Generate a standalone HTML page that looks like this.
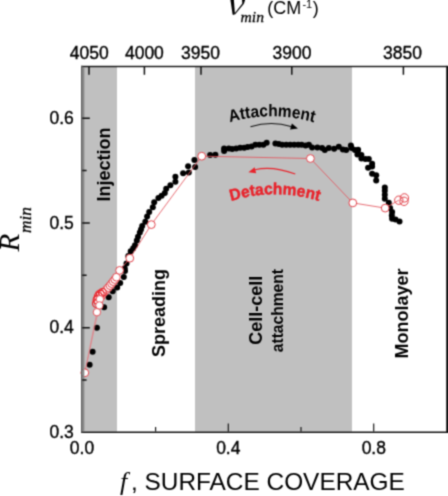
<!DOCTYPE html>
<html><head><meta charset="utf-8"><style>
html,body{margin:0;padding:0;background:#fff;width:448px;height:496px;overflow:hidden}
svg{display:block}
</style></head><body>
<svg width="448" height="496" viewBox="0 0 448 496">
<defs><filter id="bl" color-interpolation-filters="sRGB" x="0" y="0" width="100%" height="100%" filterUnits="userSpaceOnUse"><feConvolveMatrix order="3" kernelMatrix="0.04000 0.12000 0.04000 0.12000 0.36000 0.12000 0.04000 0.12000 0.04000" edgeMode="duplicate" preserveAlpha="true"/></filter></defs>
<g filter="url(#bl)">
<rect width="448" height="496" fill="#fff"/>
<rect x="82.3" y="66.3" width="34.7" height="365.3" fill="#c0c0c0"/>
<rect x="195" y="66.3" width="157" height="365.3" fill="#c0c0c0"/>
<circle cx="89.6" cy="364.8" r="3.0" fill="#000"/>
<circle cx="92.6" cy="351.7" r="3.0" fill="#000"/>
<circle cx="96.9" cy="327.8" r="3.0" fill="#000"/>
<circle cx="104.1" cy="307.3" r="3.0" fill="#000"/>
<circle cx="108.7" cy="297.2" r="3.0" fill="#000"/>
<circle cx="112.7" cy="291.2" r="3.0" fill="#000"/>
<circle cx="117.2" cy="287.6" r="3.0" fill="#000"/>
<circle cx="120.2" cy="283.1" r="3.0" fill="#000"/>
<circle cx="123.8" cy="277.1" r="3.0" fill="#000"/>
<circle cx="125.0" cy="271.0" r="3.0" fill="#000"/>
<circle cx="124.7" cy="268.3" r="3.0" fill="#000"/>
<circle cx="126.5" cy="263.4" r="3.0" fill="#000"/>
<circle cx="128.3" cy="256.0" r="3.0" fill="#000"/>
<circle cx="130.7" cy="251.3" r="3.0" fill="#000"/>
<circle cx="133.2" cy="248.3" r="3.0" fill="#000"/>
<circle cx="135.0" cy="245.3" r="3.0" fill="#000"/>
<circle cx="136.8" cy="240.4" r="3.0" fill="#000"/>
<circle cx="138.0" cy="236.8" r="3.0" fill="#000"/>
<circle cx="139.8" cy="232.6" r="3.0" fill="#000"/>
<circle cx="141.0" cy="229.5" r="3.0" fill="#000"/>
<circle cx="142.2" cy="225.9" r="3.0" fill="#000"/>
<circle cx="145.3" cy="221.7" r="3.0" fill="#000"/>
<circle cx="147.1" cy="216.6" r="3.0" fill="#000"/>
<circle cx="149.2" cy="212.1" r="3.0" fill="#000"/>
<circle cx="152.8" cy="207.2" r="3.0" fill="#000"/>
<circle cx="154.2" cy="202.2" r="3.0" fill="#000"/>
<circle cx="158.4" cy="198.0" r="3.0" fill="#000"/>
<circle cx="161.6" cy="195.8" r="3.0" fill="#000"/>
<circle cx="164.8" cy="193.1" r="3.0" fill="#000"/>
<circle cx="166.2" cy="188.8" r="3.0" fill="#000"/>
<circle cx="170.4" cy="185.3" r="3.0" fill="#000"/>
<circle cx="175.4" cy="181.8" r="3.0" fill="#000"/>
<circle cx="175.4" cy="176.8" r="3.0" fill="#000"/>
<circle cx="183.1" cy="173.3" r="3.0" fill="#000"/>
<circle cx="188.8" cy="172.6" r="3.0" fill="#000"/>
<circle cx="188.1" cy="166.2" r="3.0" fill="#000"/>
<circle cx="195.1" cy="166.9" r="3.0" fill="#000"/>
<circle cx="194.4" cy="159.9" r="3.0" fill="#000"/>
<circle cx="210.1" cy="155.1" r="3.0" fill="#000"/>
<circle cx="215.4" cy="154.8" r="3.0" fill="#000"/>
<circle cx="224.1" cy="151.1" r="3.0" fill="#000"/>
<circle cx="224.1" cy="148.4" r="3.0" fill="#000"/>
<circle cx="228.8" cy="148.4" r="3.0" fill="#000"/>
<circle cx="232.2" cy="149.1" r="3.0" fill="#000"/>
<circle cx="236.2" cy="148.4" r="3.0" fill="#000"/>
<circle cx="240.2" cy="147.7" r="3.0" fill="#000"/>
<circle cx="244.2" cy="147.7" r="3.0" fill="#000"/>
<circle cx="247.6" cy="147.1" r="3.0" fill="#000"/>
<circle cx="251.6" cy="146.4" r="3.0" fill="#000"/>
<circle cx="255.4" cy="144.7" r="3.0" fill="#000"/>
<circle cx="259.4" cy="144.7" r="3.0" fill="#000"/>
<circle cx="263.4" cy="144.7" r="3.0" fill="#000"/>
<circle cx="266.7" cy="142.7" r="3.0" fill="#000"/>
<circle cx="275.4" cy="143.4" r="3.0" fill="#000"/>
<circle cx="278.8" cy="144.1" r="3.0" fill="#000"/>
<circle cx="282.1" cy="144.7" r="3.0" fill="#000"/>
<circle cx="286.2" cy="144.7" r="3.0" fill="#000"/>
<circle cx="290.2" cy="144.7" r="3.0" fill="#000"/>
<circle cx="294.2" cy="144.7" r="3.0" fill="#000"/>
<circle cx="298.2" cy="144.7" r="3.0" fill="#000"/>
<circle cx="301.6" cy="144.7" r="3.0" fill="#000"/>
<circle cx="305.6" cy="145.4" r="3.0" fill="#000"/>
<circle cx="308.9" cy="144.7" r="3.0" fill="#000"/>
<circle cx="312.1" cy="147.4" r="3.0" fill="#000"/>
<circle cx="317.4" cy="147.4" r="3.0" fill="#000"/>
<circle cx="322.1" cy="148.1" r="3.0" fill="#000"/>
<circle cx="324.8" cy="150.1" r="3.0" fill="#000"/>
<circle cx="328.8" cy="148.1" r="3.0" fill="#000"/>
<circle cx="334.1" cy="148.7" r="3.0" fill="#000"/>
<circle cx="338.8" cy="146.7" r="3.0" fill="#000"/>
<circle cx="342.9" cy="149.4" r="3.0" fill="#000"/>
<circle cx="346.2" cy="150.1" r="3.0" fill="#000"/>
<circle cx="350.9" cy="145.4" r="3.0" fill="#000"/>
<circle cx="351.6" cy="148.1" r="3.0" fill="#000"/>
<circle cx="354.9" cy="150.1" r="3.0" fill="#000"/>
<circle cx="357.6" cy="151.4" r="3.0" fill="#000"/>
<circle cx="358.1" cy="149.7" r="3.0" fill="#000"/>
<circle cx="357.4" cy="154.4" r="3.0" fill="#000"/>
<circle cx="361.4" cy="155.1" r="3.0" fill="#000"/>
<circle cx="361.4" cy="158.4" r="3.0" fill="#000"/>
<circle cx="365.4" cy="159.1" r="3.0" fill="#000"/>
<circle cx="368.8" cy="159.1" r="3.0" fill="#000"/>
<circle cx="372.1" cy="163.8" r="3.0" fill="#000"/>
<circle cx="372.1" cy="166.5" r="3.0" fill="#000"/>
<circle cx="368.1" cy="167.8" r="3.0" fill="#000"/>
<circle cx="372.1" cy="173.8" r="3.0" fill="#000"/>
<circle cx="376.2" cy="175.2" r="3.0" fill="#000"/>
<circle cx="376.2" cy="180.5" r="3.0" fill="#000"/>
<circle cx="384.8" cy="187.4" r="3.0" fill="#000"/>
<circle cx="384.8" cy="190.7" r="3.0" fill="#000"/>
<circle cx="384.8" cy="194.7" r="3.0" fill="#000"/>
<circle cx="384.8" cy="198.7" r="3.0" fill="#000"/>
<circle cx="388.8" cy="202.8" r="3.0" fill="#000"/>
<circle cx="390.1" cy="208.1" r="3.0" fill="#000"/>
<circle cx="392.1" cy="212.1" r="3.0" fill="#000"/>
<circle cx="391.8" cy="215.4" r="3.0" fill="#000"/>
<circle cx="392.1" cy="218.8" r="3.0" fill="#000"/>
<circle cx="395.5" cy="219.5" r="3.0" fill="#000"/>
<circle cx="399.5" cy="221.5" r="3.0" fill="#000"/>
<polyline points="96.9,312.2 99.4,305.4 99.6,299.7 102.6,295.2 105.6,291.2 108.2,287.6 110.7,284.1 113.2,280.6 116.2,277.1 119.8,270.1 130.1,258.0 151.3,224.6 201.7,156.2 310.4,158.5 352.8,202.9 385.2,208.1 398.8,200.2" fill="none" stroke="#e3545c" stroke-width="0.85"/>
<path d="M84.8,372.8 L96.9,312.2 M84.8,372.8 L99.4,305.4" stroke="#e6737a" stroke-width="0.65" fill="none"/>
<circle cx="84.8" cy="372.8" r="3.9" fill="#fff" stroke="#e2444c" stroke-width="1.0"/>
<circle cx="97.6" cy="298.0" r="3.9" fill="#fff" stroke="#e2444c" stroke-width="1.0"/>
<circle cx="99.0" cy="294.5" r="3.9" fill="#fff" stroke="#e2444c" stroke-width="1.0"/>
<circle cx="98.2" cy="302.5" r="3.9" fill="#fff" stroke="#e2444c" stroke-width="1.0"/>
<circle cx="101.2" cy="296.5" r="3.9" fill="#fff" stroke="#e2444c" stroke-width="1.0"/>
<circle cx="102.8" cy="293.6" r="3.9" fill="#fff" stroke="#e2444c" stroke-width="1.0"/>
<circle cx="104.6" cy="291.6" r="3.9" fill="#fff" stroke="#e2444c" stroke-width="1.0"/>
<circle cx="106.5" cy="289.5" r="3.9" fill="#fff" stroke="#e2444c" stroke-width="1.0"/>
<circle cx="108.3" cy="287.6" r="3.9" fill="#fff" stroke="#e2444c" stroke-width="1.0"/>
<circle cx="110.0" cy="285.6" r="3.9" fill="#fff" stroke="#e2444c" stroke-width="1.0"/>
<circle cx="111.6" cy="283.6" r="3.9" fill="#fff" stroke="#e2444c" stroke-width="1.0"/>
<circle cx="113.2" cy="281.6" r="3.9" fill="#fff" stroke="#e2444c" stroke-width="1.0"/>
<circle cx="114.8" cy="279.5" r="3.9" fill="#fff" stroke="#e2444c" stroke-width="1.0"/>
<circle cx="116.4" cy="277.2" r="3.9" fill="#fff" stroke="#e2444c" stroke-width="1.0"/>
<circle cx="119.6" cy="270.4" r="3.9" fill="#fff" stroke="#e2444c" stroke-width="1.0"/>
<circle cx="129.8" cy="258.2" r="3.9" fill="#fff" stroke="#e2444c" stroke-width="1.0"/>
<circle cx="151.3" cy="224.6" r="3.9" fill="#fff" stroke="#e2444c" stroke-width="1.0"/>
<circle cx="201.7" cy="156.2" r="3.9" fill="#fff" stroke="#e2444c" stroke-width="1.0"/>
<circle cx="310.4" cy="158.5" r="3.9" fill="#fff" stroke="#e2444c" stroke-width="1.0"/>
<circle cx="352.8" cy="202.9" r="3.9" fill="#fff" stroke="#e2444c" stroke-width="1.0"/>
<circle cx="385.2" cy="208.1" r="3.9" fill="#fff" stroke="#e2444c" stroke-width="1.0"/>
<circle cx="98.3" cy="296.4" r="3.9" fill="none" stroke="#e8232b" stroke-width="1.1"/>
<circle cx="100.3" cy="294.0" r="3.9" fill="none" stroke="#e8232b" stroke-width="1.1"/>
<circle cx="97.0" cy="299.8" r="3.9" fill="none" stroke="#e8232b" stroke-width="1.1"/>
<circle cx="102.4" cy="292.4" r="3.9" fill="none" stroke="#e8232b" stroke-width="1.1"/>
<circle cx="96.4" cy="303.5" r="3.9" fill="none" stroke="#e8232b" stroke-width="1.1"/>
<circle cx="99.9" cy="299.2" r="3.7" fill="#fff" stroke="#e2444c" stroke-width="0.9"/>
<circle cx="99.4" cy="305.4" r="3.7" fill="#fff" stroke="#e2444c" stroke-width="0.9"/>
<circle cx="96.9" cy="312.2" r="3.7" fill="#fff" stroke="#e2444c" stroke-width="0.9"/>
<circle cx="398.8" cy="200.2" r="4.2" fill="none" stroke="#e2444c" stroke-width="1.0"/>
<circle cx="404.4" cy="197.9" r="4.2" fill="none" stroke="#e2444c" stroke-width="1.0"/>
<circle cx="404.0" cy="201.3" r="4.2" fill="none" stroke="#e2444c" stroke-width="1.0"/>
<rect x="81" y="65.8" width="366" height="1.4" fill="#111"/>
<rect x="81" y="431.5" width="367" height="1.5" fill="#111"/>
<rect x="446.2" y="65.8" width="2" height="366.7" fill="#111"/>
<rect x="81" y="65.8" width="1.6" height="366.7" fill="#5a5a5a"/>
<rect x="82.6" y="67.2" width="1.7" height="363.7" fill="#858585"/>
<path d="M228.3,431.6v-8 M373.7,431.6v-8 M155.6,431.6v-4.5 M301.0,431.6v-4.5" stroke="#111" stroke-width="1.15" fill="none"/>
<path d="M82.3,327.7h7.5 M82.3,223.0h7.5 M82.3,118.3h7.5 M82.3,380.0h4.3 M82.3,275.3h4.3 M82.3,170.6h4.3 M89.0,66.3v8.5 M144.4,66.3v8.5 M201.0,66.3v8.5 M291.8,66.3v8.5 M403.4,66.3v8.5" stroke="#111" stroke-width="1.5" fill="none"/>
<text x="82" y="453.5" font-family="Liberation Sans" font-size="17.5" stroke="#000" stroke-width="0.35" text-anchor="middle">0.0</text>
<text x="228.3" y="453.5" font-family="Liberation Sans" font-size="17.5" stroke="#000" stroke-width="0.35" text-anchor="middle">0.4</text>
<text x="373.8" y="453.5" font-family="Liberation Sans" font-size="17.5" stroke="#000" stroke-width="0.35" text-anchor="middle">0.8</text>
<text x="73.8" y="438.0" font-family="Liberation Sans" font-size="17.5" stroke="#000" stroke-width="0.35" text-anchor="end">0.3</text>
<text x="73.8" y="333.3" font-family="Liberation Sans" font-size="17.5" stroke="#000" stroke-width="0.35" text-anchor="end">0.4</text>
<text x="73.8" y="228.6" font-family="Liberation Sans" font-size="17.5" stroke="#000" stroke-width="0.35" text-anchor="end">0.5</text>
<text x="73.8" y="123.9" font-family="Liberation Sans" font-size="17.5" stroke="#000" stroke-width="0.35" text-anchor="end">0.6</text>
<text x="89.3" y="59" font-family="Liberation Sans" font-size="17.5" stroke="#000" stroke-width="0.35" text-anchor="middle">4050</text>
<text x="144.4" y="59" font-family="Liberation Sans" font-size="17.5" stroke="#000" stroke-width="0.35" text-anchor="middle">4000</text>
<text x="200.5" y="59" font-family="Liberation Sans" font-size="17.5" stroke="#000" stroke-width="0.35" text-anchor="middle">3950</text>
<text x="292" y="59" font-family="Liberation Sans" font-size="17.5" stroke="#000" stroke-width="0.35" text-anchor="middle">3900</text>
<text x="402.5" y="59" font-family="Liberation Sans" font-size="17.5" stroke="#000" stroke-width="0.35" text-anchor="middle">3850</text>
<text transform="translate(110.4,201.6) rotate(-90)" font-family="Liberation Sans" font-size="18" font-weight="bold" >Injection</text>
<text transform="translate(164.8,357.0) rotate(-90)" font-family="Liberation Sans" font-size="18" font-weight="bold" >Spreading</text>
<text transform="translate(261.8,344.8) rotate(-90)" font-family="Liberation Sans" font-size="18" font-weight="bold" >Cell-cell</text>
<text transform="translate(282.8,352.2) rotate(-90)" font-family="Liberation Sans" font-size="15.6" font-weight="bold" >attachment</text>
<text transform="translate(408.3,358.6) rotate(-90)" font-family="Liberation Sans" font-size="18" font-weight="bold" >Monolayer</text>
<defs><path id="arcA" d="M242.86,125.47 A159.34,145 0 0 1 354.95,125.47"/><path id="arcD" d="M231.25,204.33 A151.04,145 0 0 1 341.67,204.33"/></defs>
<text transform="scale(0.91,1)" font-family="Liberation Sans" font-size="17" font-weight="bold"><textPath href="#arcA" startOffset="50%" text-anchor="middle">Attachment</textPath></text>
<text transform="scale(0.96,1)" font-family="Liberation Sans" font-size="16.2" font-weight="bold" fill="#e8232b" stroke="#e8232b" stroke-width="0.45"><textPath href="#arcD" startOffset="50%" text-anchor="middle">Detachment</textPath></text>
<path d="M250.5,126.8 Q271,120.5 291,126.5" fill="none" stroke="#111" stroke-width="1.1"/>
<path d="M297.9,128.6 L290.1,129.6 L291.9,123.6 Z" fill="#000"/>
<path d="M255,169.8 Q272,165.5 295.3,174" fill="none" stroke="#e8232b" stroke-width="1.15"/>
<path d="M248.4,172.2 L254.6,167.3 L256.2,173.3 Z" fill="#e8232b"/>
<text x="120" y="490" font-family="Liberation Serif" font-style="italic" font-size="26">f</text>
<text x="131" y="490" font-family="Liberation Sans" font-size="24.4">, SURFACE COVERAGE</text>
<text transform="translate(19.3,251.4) rotate(-90)" font-family="Liberation Serif" font-style="italic" font-size="29">R</text>
<text transform="translate(31.3,233) rotate(-90)" font-family="Liberation Serif" font-style="italic" stroke="#000" stroke-width="0.3" font-size="17.3">min</text>
<path d="M230.3,-1 L233.8,-1 L234.9,13.4 L233.9,15.0 L232.6,14.6 Z" fill="#000"/>
<path d="M242.0,-1 L245.4,-1 L243.9,3.8 L235.0,14.5 L234.1,13.9 L242.3,3.6 Z" fill="#000"/>
<text x="240.6" y="22" font-family="Liberation Serif" font-style="italic" stroke="#000" stroke-width="0.3" font-size="15.6">min</text>
<text x="267.3" y="14.4" font-family="Liberation Sans" font-size="18">(CM</text>
<text x="302.6" y="8" font-family="Liberation Sans" font-size="11">-</text>
<text x="306" y="8" font-family="Liberation Sans" font-size="11">1</text>
<text x="312.8" y="14.4" font-family="Liberation Sans" font-size="18">)</text>
</g>
</svg>
</body></html>
